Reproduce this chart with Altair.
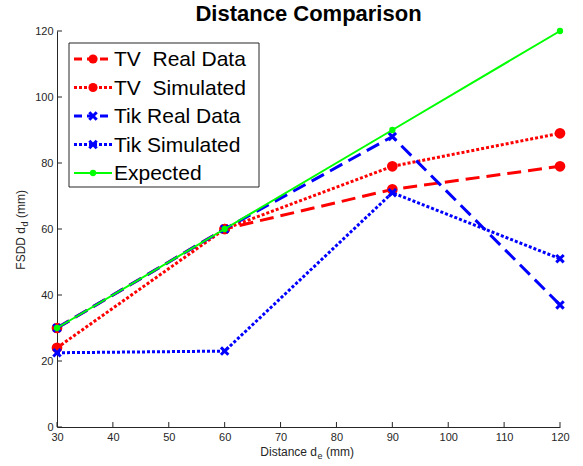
import altair as alt
import pandas as pd

# ---- data ----
x_vals = [30, 60, 90, 120]
tv_real = [30, 60, 72, 79]
tv_sim = [24, 60, 79, 89]
tik_real = [30, 60, 88, 37]
tik_sim = [22.5, 23, 71, 51]
expected = [30, 60, 90, 120]

NB = "\u00a0"
series_names = ["TV" + NB + NB + "Real Data", "TV" + NB + NB + "Simulated",
                "Tik Real Data", "Tik Simulated", "Expected"]
series_values = [tv_real, tv_sim, tik_real, tik_sim, expected]
series_colors = ["#ff0000", "#ff0000", "#0000ff", "#0000ff", "#00ff00"]
series_dash = [[14, 7], [3, 2], [14, 7], [3, 2], None]
series_width = [3, 3, 3, 3, 2]
series_marker = ["circle", "circle", "x", "x", "dot"]

x_ticks = list(range(30, 121, 10))
y_ticks = list(range(0, 121, 20))

# ---- layout ----
W, H = 503, 396
FONT = "Liberation Sans"
AX = "#262626"
X_PATH = "M-1,-1L1,1M-1,1L1,-1"

rows = []
for name, vals in zip(series_names, series_values):
    for xv, yv in zip(x_vals, vals):
        rows.append({"series": name, "x": xv, "y": yv})
df = pd.DataFrame(rows)

X = alt.X("x:Q", scale=alt.Scale(domain=[30, 120], nice=False, zero=False),
          axis=alt.Axis(values=x_ticks, ticks=False, grid=False, title=None, format="d",
                        labelFontSize=11, labelColor=AX, labelFont=FONT, domainColor=AX,
                        labelPadding=4, labelFlush=False, labelOverlap=False))
Y = alt.Y("y:Q", scale=alt.Scale(domain=[0, 120], nice=False),
          axis=alt.Axis(values=y_ticks, ticks=False, grid=False, title=None, format="d",
                        labelFontSize=11, labelColor=AX, labelFont=FONT, domainColor=AX,
                        labelPadding=4, labelFlush=False, labelOverlap=False))

one = pd.DataFrame({"a": [0]})
layers = []

# inward ticks
layers.append(alt.Chart(pd.DataFrame({"x": x_ticks})).mark_rule(color=AX, strokeWidth=1)
              .encode(x=X, y=alt.value(H), y2=alt.value(H - 5)))
layers.append(alt.Chart(pd.DataFrame({"y": y_ticks})).mark_rule(color=AX, strokeWidth=1)
              .encode(y=Y, x=alt.value(0), x2=alt.value(5)))


def marker_kw(kind, color):
    if kind == "circle":
        return dict(shape="circle", filled=True, color=color, size=115, opacity=1)
    if kind == "x":
        return dict(shape=X_PATH, filled=False, color=color, size=55, strokeWidth=3, opacity=1)
    return dict(shape="circle", filled=True, color=color, size=40, opacity=1)


for name, color, dash, sw, mk in zip(series_names, series_colors, series_dash,
                                     series_width, series_marker):
    base = alt.Chart(df).transform_filter(alt.datum.series == name)
    lkw = dict(color=color, strokeWidth=sw)
    if dash:
        lkw["strokeDash"] = dash
    layers.append(base.mark_line(**lkw).encode(x=X, y=Y))
    layers.append(base.mark_point(**marker_kw(mk, color)).encode(x=X, y=Y))

# legend
LX0, LX1, LY0, LY1 = 12, 202, 12, 156
layers.append(alt.Chart(one).mark_rect(fill="white", stroke=AX, strokeWidth=1)
              .encode(x=alt.value(LX0), x2=alt.value(LX1), y=alt.value(LY0), y2=alt.value(LY1)))
row_y = [28, 56.5, 85, 113.5, 142]
for i, (name, color, dash, sw, mk) in enumerate(zip(series_names, series_colors, series_dash,
                                                      series_width, series_marker)):
    rkw = dict(color=color, strokeWidth=sw)
    if dash:
        rkw["strokeDash"] = [8, 5] if dash[0] > 5 else dash
    layers.append(alt.Chart(one).mark_rule(**rkw)
                  .encode(x=alt.value(17), x2=alt.value(55), y=alt.value(row_y[i])))
    md = marker_kw(mk, color)
    if mk == "circle":
        md["size"] = 85
    layers.append(alt.Chart(one).mark_point(**md)
                  .encode(x=alt.value(36), y=alt.value(row_y[i])))
    layers.append(alt.Chart(one).mark_text(text=name, font=FONT, fontSize=21, color="black",
                                           align="left", baseline="middle")
                  .encode(x=alt.value(57), y=alt.value(row_y[i] + 1)))

# title
layers.append(alt.Chart(one).mark_text(text="Distance Comparison", font=FONT, fontSize=22,
                                       fontWeight="bold", color="black", align="center",
                                       baseline="alphabetic")
              .encode(x=alt.value(W / 2), y=alt.value(-10)))

# x axis title with subscript
xt_y = 421
xc = 260
layers.append(alt.Chart(one).mark_text(text="Distance d", font=FONT, fontSize=12, color=AX,
                                       align="right", baseline="middle")
              .encode(x=alt.value(xc), y=alt.value(xt_y)))
layers.append(alt.Chart(one).mark_text(text="e", font=FONT, fontSize=9, color=AX,
                                       align="left", baseline="middle")
              .encode(x=alt.value(xc + 0.5), y=alt.value(xt_y + 4)))
layers.append(alt.Chart(one).mark_text(text="(mm)", font=FONT, fontSize=12, color=AX,
                                       align="left", baseline="middle")
              .encode(x=alt.value(xc + 9), y=alt.value(xt_y)))

# y axis title with subscript
yt_x = -36
yc = 196
layers.append(alt.Chart(one).mark_text(text="FSDD d", font=FONT, fontSize=12, color=AX,
                                       align="right", baseline="middle", angle=270)
              .encode(x=alt.value(yt_x), y=alt.value(yc)))
layers.append(alt.Chart(one).mark_text(text="d", font=FONT, fontSize=9, color=AX,
                                       align="left", baseline="middle", angle=270)
              .encode(x=alt.value(yt_x + 4), y=alt.value(yc - 0.5)))
layers.append(alt.Chart(one).mark_text(text="(mm)", font=FONT, fontSize=12, color=AX,
                                       align="left", baseline="middle", angle=270)
              .encode(x=alt.value(yt_x), y=alt.value(yc - 9)))

chart = alt.layer(*layers).properties(
    width=W, height=H,
    autosize=alt.AutoSizeParams(type="none"),
    padding={"left": 57, "top": 31, "right": 23, "bottom": 39},
    background="white",
).configure_view(strokeWidth=0)

chart.save("out.html", embed_options={"renderer": "svg", "actions": False})
